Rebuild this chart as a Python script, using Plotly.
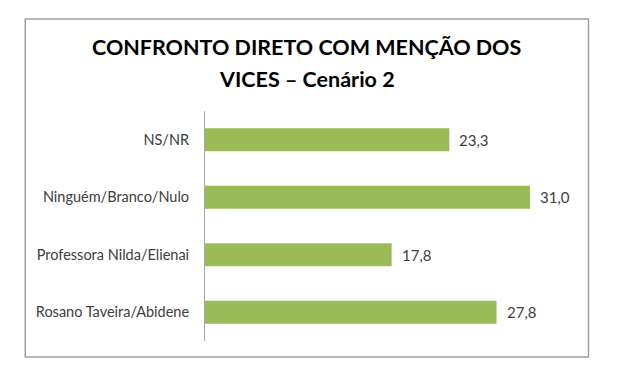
import plotly.graph_objects as go

categories = ["Rosano Taveira/Abidene", "Professora Nilda/Elienai", "Ninguém/Branco/Nulo", "NS/NR"]
values = [27.8, 17.8, 31.0, 23.3]
value_labels = ["27,8", "17,8", "31,0", "23,3"]
title_lines = ["CONFRONTO DIRETO COM MENÇÃO DOS", "VICES – Cenário 2"]

W, H = 620, 388
L, R, T, B = 205, 47.5, 111, 47
pw, ph = W - L - R, H - T - B

def px_x(x):
    return (x - L) / pw

def px_y(y):
    return (H - B - y) / ph

fig = go.Figure(go.Bar(
    y=categories, x=values, orientation="h",
    marker=dict(color="#9BBB59", line=dict(width=0)),
    width=0.4,
    hoverinfo="skip",
))

annotations = []
for cat, v, lab in zip(categories, values, value_labels):
    annotations.append(dict(x=v, y=cat, xref="x", yref="y", text=lab, showarrow=False,
                            xanchor="left", yanchor="middle", xshift=8,
                            font=dict(family="Lato", size=15, color="#404040")))
for line, yc in zip(title_lines, [47, 79]):
    annotations.append(dict(x=px_x(307), y=px_y(yc), xref="paper", yref="paper",
                            text="<b>" + line + "</b>", showarrow=False,
                            xanchor="center", yanchor="middle",
                            font=dict(family="Lato", size=21.5, color="black")))

fig.update_layout(
    width=W, height=H,
    margin=dict(l=L, r=R, t=T, b=B),
    paper_bgcolor="white", plot_bgcolor="white",
    showlegend=False,
    xaxis=dict(range=[0, 35], showgrid=False, zeroline=False, showticklabels=False,
               showline=False, fixedrange=True),
    yaxis=dict(showgrid=False, zeroline=False, showline=True, linecolor="#A6A6A6",
               linewidth=1, ticks="", ticklabelstandoff=12,
               tickfont=dict(family="Lato", size=14.5, color="#404040")),
    annotations=annotations,
    shapes=[dict(type="rect", xref="paper", yref="paper",
                 x0=px_x(25), x1=px_x(589), y0=px_y(357), y1=px_y(19),
                 line=dict(color="#A0A0A0", width=1.5), fillcolor="rgba(0,0,0,0)")],
)

fig.write_html("out.html")
